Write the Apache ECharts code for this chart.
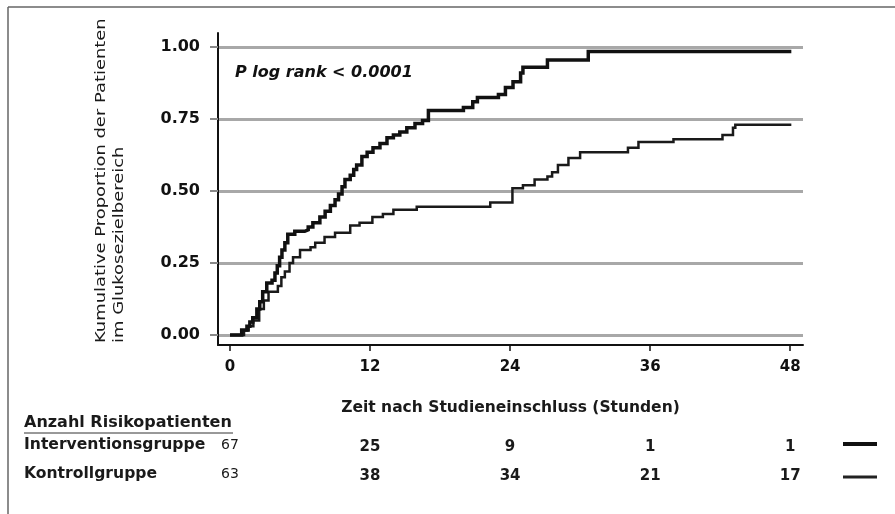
<!DOCTYPE html>
<html><head><meta charset="utf-8">
<script src="https://cdn.jsdelivr.net/npm/echarts@6/dist/echarts.min.js"></script>
<style>html,body{margin:0;padding:0;background:#fff}#c{width:895px;height:514px}</style>
</head><body><div id="c"></div>
<script>
// ---- data ----
const xTicks = [0, 12, 24, 36, 48];
const yTicks = [0, 0.25, 0.5, 0.75, 1];
const interventionCurve = [
  [0,0],[1.0,0.017],[1.45,0.03],[1.7,0.045],[1.95,0.06],[2.3,0.09],[2.55,0.115],[2.8,0.15],
  [3.15,0.18],[3.6,0.19],[3.85,0.215],[4.05,0.24],[4.25,0.27],[4.45,0.295],[4.7,0.32],[4.95,0.35],
  [5.55,0.36],[6.4,0.365],[6.7,0.375],[7.1,0.39],[7.7,0.41],[8.15,0.43],[8.6,0.45],[9.0,0.47],
  [9.3,0.49],[9.6,0.515],[9.85,0.54],[10.3,0.555],[10.6,0.575],[10.85,0.59],[11.3,0.62],[11.75,0.635],
  [12.25,0.65],[12.85,0.665],[13.45,0.685],[14.0,0.695],[14.55,0.705],[15.15,0.72],[15.85,0.735],
  [16.5,0.745],[17.0,0.78],[20.0,0.79],[20.8,0.81],[21.2,0.825],[23.0,0.835],[23.6,0.86],[24.25,0.88],
  [24.9,0.91],[25.1,0.93],[27.2,0.955],[30.7,0.985],[48.1,0.985]
];
const controlCurve = [
  [0,0],[1.2,0.015],[1.6,0.03],[2.0,0.05],[2.5,0.09],[2.9,0.12],[3.3,0.15],[4.1,0.17],[4.4,0.2],
  [4.7,0.22],[5.1,0.25],[5.4,0.27],[6.0,0.295],[6.9,0.305],[7.3,0.32],[8.1,0.34],[9.0,0.355],
  [10.3,0.38],[11.1,0.39],[12.2,0.41],[13.1,0.42],[14.0,0.435],[16.0,0.445],[22.3,0.46],[24.2,0.51],
  [25.1,0.52],[26.1,0.54],[27.2,0.55],[27.6,0.565],[28.1,0.59],[29.0,0.615],[30.0,0.635],[34.1,0.65],
  [35.0,0.67],[38.0,0.68],[42.2,0.695],[43.1,0.72],[43.3,0.73],[48.1,0.73]
];
const groupNames = ['Interventionsgruppe', 'Kontrollgruppe'];
const riskTimes = [0, 12, 24, 36, 48];
const riskIntervention = [67, 25, 9, 1, 1];
const riskControl = [63, 38, 34, 21, 17];
const xTitle = 'Zeit nach Studieneinschluss (Stunden)';
const yTitleLines = ['Kumulative Proportion der Patienten', 'im Glukosezielbereich'];
const pText = 'P log rank < 0.0001';
const tableTitle = 'Anzahl Risikopatienten';

const FONT = 'DejaVu Sans';
const chart = echarts.init(document.getElementById('c'), null, {renderer: 'canvas'});
chart.setOption({
  animation: false,
  backgroundColor: '#fff',
  grid: {left: 218, right: 92, top: 33, bottom: 169, containLabel: false},
  xAxis: {
    type: 'value', min: -1.03, max: 49.1,
    name: xTitle, nameLocation: 'middle', nameGap: 55,
    nameTextStyle: {fontFamily: FONT, fontWeight: 'bold', fontSize: 15.5, color: '#1a1a1a'},
    axisLine: {show: true, onZero: false, lineStyle: {color: '#111', width: 2}},
    axisTick: {show: true, length: 6, customValues: xTicks, lineStyle: {color: '#111', width: 1.5}},
    axisLabel: {customValues: xTicks, margin: 15, fontFamily: FONT, fontWeight: 'bold', fontSize: 15, color: '#111'},
    splitLine: {show: false}
  },
  yAxis: {
    type: 'value', min: -0.035, max: 1.049,
    axisLine: {show: true, onZero: false, lineStyle: {color: '#111', width: 2}},
    axisTick: {show: true, length: 8, customValues: yTicks, lineStyle: {color: '#888', width: 2}},
    axisLabel: {customValues: yTicks, margin: 18, fontFamily: FONT, fontWeight: 'bold', fontSize: 16, color: '#111',
      formatter: v => v.toFixed(2)},
    splitLine: {show: true, lineStyle: {color: '#a8a8a8', width: 3}}
  },
  series: [
    {name: groupNames[0], type: 'line', step: 'end', data: interventionCurve, showSymbol: false, symbol: 'none',
     lineStyle: {color: '#111', width: 3.5, join: 'miter'}, z: 3},
    {name: groupNames[1], type: 'line', step: 'end', data: controlCurve, showSymbol: false, symbol: 'none',
     lineStyle: {color: '#1a1a1a', width: 2.5, join: 'miter'}, z: 2}
  ]
});

const px = t => chart.convertToPixel({xAxisIndex: 0}, t);
const g = [];
// frame
g.push({type: 'line', shape: {x1: 8, y1: 7, x2: 895, y2: 7}, style: {stroke: '#666', lineWidth: 1.5}});
g.push({type: 'line', shape: {x1: 8, y1: 7, x2: 8, y2: 514}, style: {stroke: '#666', lineWidth: 1.5}});
// y title
g.push({type: 'text', x: 110, y: 343, rotation: Math.PI / 2, scaleX: 1.28,
  style: {text: yTitleLines.join('\n'), font: '14px "' + FONT + '"', fill: '#1a1a1a', textAlign: 'left',
    textVerticalAlign: 'middle', lineHeight: 18}});
// p value
g.push({type: 'text', x: 235, y: 73,
  style: {text: pText, font: 'italic bold 16px "' + FONT + '"', fill: '#111', textAlign: 'left', textVerticalAlign: 'middle'}});
// table
g.push({type: 'text', x: 24, y: 423,
  style: {text: tableTitle, font: 'bold 16px "' + FONT + '"', fill: '#1a1a1a', textAlign: 'left', textVerticalAlign: 'middle'}});
g.push({type: 'line', shape: {x1: 24, y1: 433, x2: 233, y2: 433}, style: {stroke: '#333', lineWidth: 1}});
const rowY = [445, 474];
const rows = [riskIntervention, riskControl];
groupNames.forEach((nm, r) => {
  g.push({type: 'text', x: 24, y: rowY[r],
    style: {text: nm, font: 'bold 15.6px "' + FONT + '"', fill: '#1a1a1a', textAlign: 'left', textVerticalAlign: 'middle'}});
  rows[r].forEach((v, i) => {
    const first = i === 0;
    g.push({type: 'text', x: px(riskTimes[i]), y: rowY[r] + (first ? 0 : 2),
      style: {text: String(v), font: (first ? '' : 'bold ') + (first ? 14 : 15) + 'px "' + FONT + '"', fill: '#1a1a1a',
        textAlign: 'center', textVerticalAlign: 'middle'}});
  });
});
// legend strokes
g.push({type: 'line', shape: {x1: 843, y1: 444, x2: 877, y2: 444}, style: {stroke: '#111', lineWidth: 4}});
g.push({type: 'line', shape: {x1: 843, y1: 477, x2: 877, y2: 477}, style: {stroke: '#222', lineWidth: 3}});
chart.setOption({graphic: g});
</script></body></html>
